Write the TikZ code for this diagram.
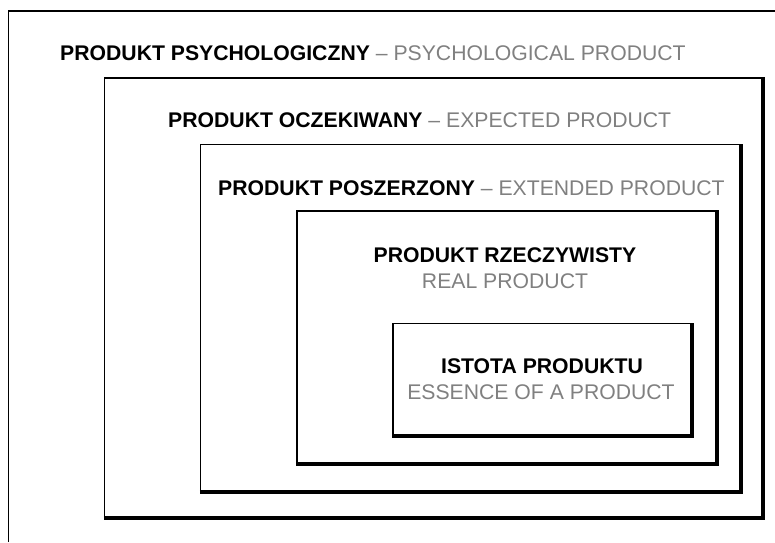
\documentclass[tikz,border=0pt]{standalone}
\usepackage{fontspec}
\setmainfont{Liberation Sans}
\definecolor{subgray}{RGB}{128,128,128}
\begin{document}
\begin{tikzpicture}[x=1pt,y=-1pt,
  thinedge/.style={line width=1.2pt},
  heavyedge/.style={line width=4.3pt},
  label/.style={font=\fontsize{21.2}{25}\selectfont, inner sep=0pt},
  headline/.style={label, font=\fontsize{21.2}{25}\selectfont\bfseries},
  subline/.style={label, text=subgray}]
\useasboundingbox (0,0) rectangle (775,542);

% outer, open frame
\draw[thinedge] (8.5,542) -- (8.5,11) -- (775,11);

% nested layers: thin top/left edges, heavy right/bottom edges
\foreach \l/\t/\r/\b in {104.5/78/763/518, 200.5/144.5/741/492,
                         297/211/717/464, 393/323.5/692/436}{
  \draw[thinedge] (\r,\t) -- (\l,\t) -- (\l,\b);
  \draw[heavyedge] (\l-0.6,\b) -- (\r,\b) -- (\r,\t-0.6);
}

% layer titles
\node[label, anchor=base west] (psych) at (60,60)
  {\textbf{PRODUKT PSYCHOLOGICZNY} \textcolor{subgray}{– PSYCHOLOGICAL PRODUCT}};
\node[label, anchor=base west] (expect) at (168,127)
  {\textbf{PRODUKT OCZEKIWANY} \textcolor{subgray}{– EXPECTED PRODUCT}};
\node[label, anchor=base west] (extend) at (218,195)
  {\textbf{PRODUKT POSZERZONY} \textcolor{subgray}{– EXTENDED PRODUCT}};
\node[headline, anchor=base] (real) at (505,262) {PRODUKT RZECZYWISTY};
\node[subline, anchor=base] (realsub) at (505,288) {REAL PRODUCT};
\node[headline, anchor=base] (core) at (542,373) {ISTOTA PRODUKTU};
\node[subline, anchor=base] (coresub) at (541,399) {ESSENCE OF A PRODUCT};
\end{tikzpicture}
\end{document}
